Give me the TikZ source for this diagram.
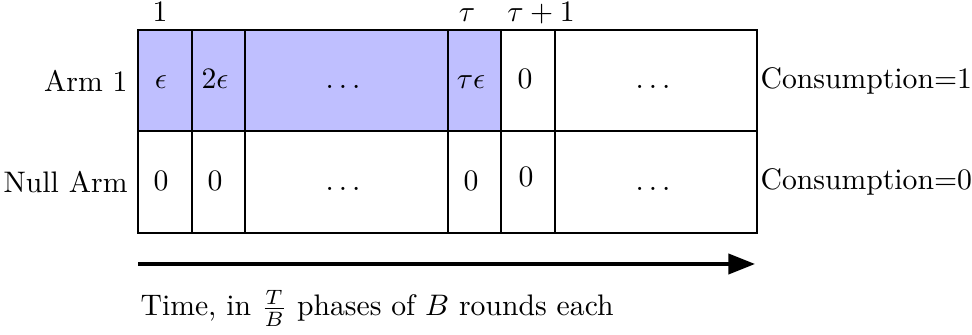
\documentclass[tikz,border=0pt]{standalone}
\usetikzlibrary{arrows.meta}
\begin{document}
\begin{tikzpicture}[x=0.3367pt,y=-0.3367pt,
  cellline/.style={draw=black,line width=0.5pt},
  filled/.style={fill=blue!25},
  celltext/.style={anchor=base,inner sep=0pt},
  rowlabel/.style={anchor=east},
  conslabel/.style={anchor=west,inner sep=1pt},
  toplabel/.style={anchor=base,inner sep=0pt},
  timearrow/.style={line width=1.2pt,-{Triangle[length=9pt,width=6.8pt]}}]
\useasboundingbox (0,0) rectangle (972,335);
% columns: 138 192 245 448 501 555 757 ; rows 30 131 233
\fill[filled] (138,30) rectangle (501,131);
\draw[cellline] (138,30) rectangle (757,233);
\draw[cellline] (138,131) -- (757,131);
\foreach \x in {192,245,448,501,555} \draw[cellline] (\x,30) -- (\x,233);
% row 1 texts
\node[celltext] (c11) at (161,89) {$\epsilon$};
\node[celltext] (c12) at (215,89) {$2\epsilon$};
\node[celltext] (c13) at (343,89) {$\ldots$};
\node[celltext] (c14) at (471,89) {$\tau\epsilon$};
\node[celltext] (c15) at (525,89) {$0$};
\node[celltext] (c16) at (653,89) {$\ldots$};
% row 2 texts
\node[celltext] (c21) at (161,191) {$0$};
\node[celltext] (c22) at (215,191) {$0$};
\node[celltext] (c23) at (343,191) {$\ldots$};
\node[celltext] (c24) at (471,191) {$0$};
\node[celltext] (c25) at (526,187) {$0$};
\node[celltext] (c26) at (653,191) {$\ldots$};
% row labels
\node[rowlabel] (arm1) at (138,80.5) {Arm 1};
\node[rowlabel] (null) at (138,182) {Null Arm};
\node[conslabel] (cons1) at (757,80.5) {Consumption=1};
\node[conslabel] (cons0) at (757,182) {Consumption=0};
% top labels
\node[toplabel] (t1) at (160,22) {$1$};
\node[toplabel] (ttau) at (467,22) {$\tau$};
\node[toplabel] (ttau1) at (541,22) {$\tau+1$};
% arrow
\coordinate (as) at (138,264);
\coordinate (ae) at (755,264);
\draw[timearrow] (as) -- (ae);
\node[anchor=base west,inner sep=0pt] (time) at (140,316) {Time, in $\frac{T}{B}$ phases of $B$ rounds each};
\end{tikzpicture}
\end{document}
